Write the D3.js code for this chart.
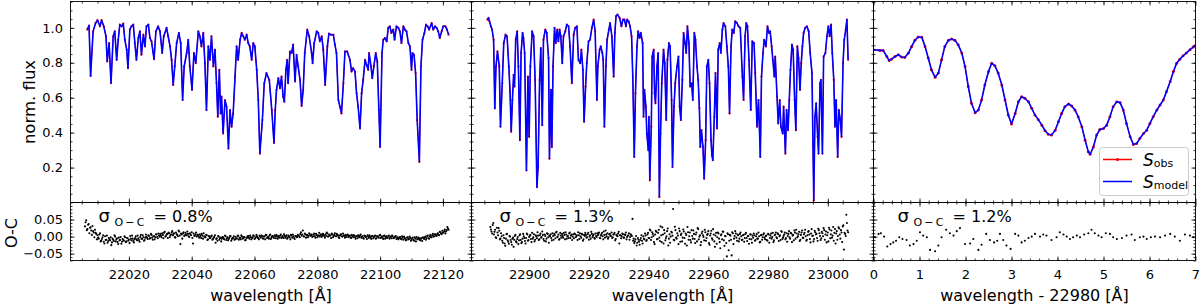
<!DOCTYPE html>
<html>
<head>
<meta charset="utf-8">
<script src="https://cdn.jsdelivr.net/npm/d3@7"></script>
<style>
body { margin: 0; background: #fff; }
text { font-family: "DejaVu Sans", sans-serif; fill: #000; }
</style>
</head>
<body>
<svg id="fig" width="1200" height="308"></svg>
<script>
// ---- data ----
// model spectra [wavelength, norm. flux]
var spec1 = [[22006.7,0.990],[22007.3,1.013],[22007.8,0.725],[22008.6,0.980],[22009.4,1.028],[22010.0,1.044],[22010.8,1.009],[22011.3,1.044],[22012.0,1.009],[22012.7,0.952],
[22013.1,0.808],[22013.7,0.913],[22014.3,0.683],[22015.0,0.952],[22015.5,0.980],[22016.1,0.817],[22016.6,0.932],[22017.1,1.019],[22017.7,1.009],[22018.2,1.024],
[22018.7,0.932],[22019.3,0.875],[22019.7,0.769],[22020.3,0.990],[22020.8,1.009],[22021.4,1.019],[22021.9,0.913],[22022.4,0.817],[22023.0,0.942],[22023.5,0.980],
[22024.0,0.846],[22024.6,0.961],[22025.1,0.894],[22025.6,1.009],[22026.2,1.019],[22026.7,0.942],[22027.2,0.923],[22028.0,0.821],[22028.6,0.980],[22029.3,1.009],
[22029.9,0.980],[22030.6,0.856],[22031.1,0.952],[22032.0,1.000],[22032.5,0.952],[22033.1,0.894],[22033.6,0.817],[22034.1,0.673],[22034.6,0.779],[22035.2,0.913],
[22035.9,0.971],[22036.5,0.913],[22037.1,0.587],[22037.6,0.779],[22038.4,0.856],[22038.9,0.932],[22039.4,0.779],[22040.1,0.645],[22040.7,0.856],[22041.3,0.798],
[22042.1,0.980],[22042.6,0.952],[22043.1,0.894],[22043.7,0.971],[22044.2,0.798],[22044.7,0.529],[22045.3,0.894],[22045.8,0.817],[22046.3,0.952],[22046.9,0.779],
[22047.4,0.875],[22047.9,0.683],[22048.3,0.491],[22048.8,0.760],[22049.2,0.510],[22049.5,0.606],[22050.0,0.395],[22050.6,0.587],[22051.1,0.549],[22051.7,0.309],
[22052.2,0.529],[22052.7,0.434],[22053.2,0.510],[22053.8,0.721],[22054.3,0.894],[22054.8,0.817],[22055.4,0.932],[22055.9,0.971],[22056.4,0.952],[22056.9,0.932],
[22057.5,0.961],[22058.0,0.913],[22058.5,0.894],[22059.1,0.817],[22059.6,0.913],[22060.1,0.894],[22060.7,0.760],[22061.2,0.587],[22061.7,0.280],[22062.5,0.472],
[22063.1,0.683],[22063.8,0.741],[22064.7,0.702],[22065.5,0.529],[22066.2,0.341],[22066.6,0.529],[22067.0,0.645],[22067.6,0.712],[22068.1,0.654],[22068.6,0.721],
[22069.1,0.606],[22069.5,0.577],[22070.0,0.760],[22070.4,0.817],[22070.7,0.683],[22071.3,0.865],[22071.8,0.856],[22072.3,0.904],[22072.9,0.693],[22073.4,0.846],
[22073.9,0.779],[22074.5,0.702],[22075.0,0.553],[22075.5,0.645],[22076.0,0.856],[22076.8,0.990],[22077.4,0.952],[22078.2,0.856],[22078.5,0.798],[22079.0,0.913],
[22079.8,0.980],[22080.3,0.971],[22080.8,0.923],[22081.4,0.952],[22081.9,0.875],[22082.5,0.673],[22083.2,0.894],[22083.7,0.967],[22084.3,0.961],[22085.1,0.961],
[22085.6,0.904],[22086.1,0.856],[22086.7,0.587],[22087.2,0.549],[22087.7,0.510],[22088.3,0.683],[22088.8,0.865],[22089.5,0.865],[22090.4,0.817],[22090.9,0.750],
[22091.4,0.769],[22092.0,0.750],[22092.5,0.625],[22093.0,0.549],[22093.6,0.424],[22094.1,0.625],[22094.6,0.702],[22095.2,0.817],[22095.7,0.788],[22096.2,0.760],
[22096.5,0.856],[22097.1,0.779],[22097.5,0.712],[22098.0,0.779],[22098.6,0.856],[22099.1,0.808],[22099.6,0.529],[22100.0,0.318],[22100.6,0.856],[22101.0,0.932],
[22101.5,0.942],[22102.1,0.923],[22102.6,1.000],[22103.1,1.009],[22103.6,0.971],[22104.2,0.990],[22104.6,0.932],[22105.2,1.009],[22105.8,1.000],[22106.3,0.980],
[22106.8,0.913],[22107.4,1.009],[22107.9,0.990],[22108.4,0.980],[22109.0,0.913],[22109.5,0.894],[22110.0,0.760],[22110.3,0.856],[22110.8,0.846],[22111.3,0.741],
[22111.8,0.472],[22112.5,0.232],[22113.0,0.779],[22113.5,0.932],[22114.1,0.971],[22114.6,1.019],[22115.1,1.009],[22115.6,0.990],[22116.4,1.028],[22116.9,0.990],
[22117.5,1.009],[22118.0,1.000],[22118.5,0.980],[22119.0,0.942],[22119.6,0.980],[22120.1,1.009],[22120.8,1.009],[22121.3,0.990],[22121.8,0.961]];

var spec2 = [[22886.0,1.047],[22886.4,1.057],[22886.7,1.038],[22887.2,1.009],[22887.6,0.990],[22888.1,0.932],[22888.5,0.539],[22888.9,0.779],[22889.4,0.865],[22890.0,0.779],
[22890.4,0.434],[22891.0,0.683],[22891.5,0.913],[22892.1,0.961],[22892.6,0.952],[22893.2,0.779],[22893.6,0.635],[22894.0,0.405],[22894.4,0.587],[22894.8,0.731],
[22895.1,0.664],[22895.5,0.932],[22896.0,0.980],[22896.4,0.779],[22896.9,0.357],[22897.3,0.856],[22897.8,0.971],[22898.1,0.942],[22898.5,0.856],[22899.1,0.184],
[22899.6,0.721],[22900.0,0.376],[22900.4,0.779],[22901.0,0.980],[22901.5,0.952],[22902.0,0.702],[22902.6,0.088],[22903.0,0.203],[22903.5,0.702],[22903.9,0.884],
[22904.4,0.443],[22904.8,0.932],[22905.4,0.990],[22905.9,0.971],[22906.5,0.827],[22906.8,0.251],[22907.3,0.645],[22907.6,0.318],[22908.0,0.779],[22908.5,1.000],
[22908.9,0.913],[22909.4,0.990],[22909.8,0.923],[22910.2,0.990],[22910.6,0.952],[22911.1,0.798],[22911.5,0.952],[22912.1,0.980],[22912.6,1.019],[22913.2,1.009],
[22913.7,0.894],[22914.3,0.683],[22914.9,0.961],[22915.4,1.000],[22916.0,1.009],[22916.5,0.817],[22917.1,0.798],[22917.5,0.875],[22918.0,0.760],[22918.4,0.462],
[22918.9,0.664],[22919.3,0.798],[22919.9,0.923],[22920.4,0.932],[22921.0,1.000],[22921.6,1.047],[22922.1,0.980],[22922.7,0.587],[22923.0,0.779],[22923.6,0.875],
[22924.0,0.894],[22924.5,0.856],[22924.8,0.817],[22925.2,0.434],[22925.7,0.779],[22926.1,0.932],[22926.7,0.990],[22927.1,1.028],[22927.7,0.952],[22928.3,0.721],
[22928.7,0.971],[22929.1,1.067],[22929.6,1.076],[22930.3,1.057],[22930.9,1.009],[22931.4,1.047],[22931.9,1.047],[22932.4,1.009],[22932.8,1.047],[22933.3,1.038],
[22933.8,1.009],[22934.3,0.952],[22934.7,0.721],[22935.2,0.261],[22935.6,0.625],[22936.1,0.894],[22936.5,0.980],[22937.0,0.942],[22937.4,0.971],[22938.0,0.913],
[22938.3,0.491],[22938.6,0.645],[22939.1,0.549],[22939.4,0.395],[22939.9,0.299],[22940.1,0.491],[22940.4,0.127],[22940.9,0.434],[22941.2,0.836],[22941.7,0.875],
[22942.0,0.625],[22942.3,0.568],[22942.8,0.779],[22943.2,0.856],[22943.6,0.031],[22944.0,0.395],[22944.4,0.683],[22945.0,0.875],[22945.4,0.798],[22945.9,0.472],
[22946.3,0.817],[22946.8,0.913],[22947.2,0.894],[22947.7,0.587],[22948.0,0.203],[22948.5,0.549],[22948.9,0.683],[22949.5,0.779],[22950.0,0.836],[22950.4,0.549],
[22950.8,0.472],[22951.3,0.702],[22951.7,0.971],[22952.2,0.913],[22952.6,0.856],[22953.0,1.009],[22953.5,0.913],[22953.9,0.664],[22954.4,0.683],[22954.8,0.587],
[22955.3,0.971],[22955.7,0.932],[22956.2,0.779],[22956.6,0.702],[22957.0,0.539],[22957.3,0.318],[22957.7,0.414],[22958.2,0.318],[22958.6,0.136],[22959.1,0.357],
[22959.5,0.779],[22960.0,0.817],[22960.4,0.683],[22960.9,0.357],[22961.2,0.271],[22961.5,0.242],[22962.0,0.491],[22962.4,0.741],[22962.9,0.424],[22963.3,0.875],
[22963.8,0.913],[22964.2,0.856],[22964.7,0.990],[22965.1,1.028],[22965.7,1.009],[22966.2,0.894],[22966.7,0.779],[22967.1,0.510],[22967.6,0.894],[22968.0,0.990],
[22968.5,0.971],[22969.0,1.038],[22969.6,1.028],[22970.1,1.009],[22970.7,1.000],[22971.4,0.721],[22971.8,0.587],[22972.3,0.952],[22972.7,1.028],[22973.1,1.009],
[22973.6,0.817],[22974.2,0.530],[22974.7,0.923],[22975.3,0.913],[22975.7,0.741],[22976.3,0.434],[22976.8,0.587],[22977.4,0.261],[22977.8,0.721],[22978.3,0.856],
[22978.7,0.932],[22979.3,0.894],[22979.8,1.009],[22980.3,0.971],[22980.7,0.980],[22981.2,0.894],[22981.6,0.817],[22982.1,0.721],[22982.4,0.836],[22983.0,0.606],
[22983.4,0.453],[22983.9,0.587],[22984.3,0.434],[22984.9,0.395],[22985.2,0.549],[22985.8,0.280],[22986.2,0.530],[22986.7,0.414],[22987.1,0.587],[22987.5,0.760],
[22988.0,0.904],[22988.4,0.875],[22988.9,0.587],[22989.3,0.414],[22989.8,0.894],[22990.2,0.827],[22990.7,0.645],[22991.1,0.798],[22991.5,0.894],[22991.9,0.971],
[22992.4,1.000],[22993.0,1.009],[22993.6,0.980],[22994.1,0.856],[22994.7,0.741],[22995.3,0.012],[22995.7,0.491],[22996.1,0.568],[22996.6,0.376],[22996.9,0.280],
[22997.4,0.683],[22997.7,0.702],[22998.2,0.280],[22998.6,0.836],[22999.2,0.856],[22999.7,0.952],[23000.2,1.009],[23000.6,0.952],[23001.1,1.019],[23001.5,0.856],
[23002.0,0.702],[23002.4,0.434],[23002.8,0.587],[23003.3,0.261],[23003.7,0.530],[23004.2,0.472],[23004.6,0.376],[23005.1,0.798],[23005.5,0.932],[23006.0,0.990],
[23006.4,1.047],[23006.8,0.817]];

// third panel: [wavelength - 22980, norm. flux]
var spec3 = [[0.00,0.875],[0.14,0.871],[0.21,0.871],[0.29,0.836],[0.34,0.813],[0.39,0.821],[0.47,0.836],[0.54,0.846],[0.61,0.833],[0.68,0.831],
[0.76,0.856],[0.83,0.894],[0.90,0.929],[0.97,0.948],[1.05,0.946],[1.12,0.894],[1.19,0.827],[1.26,0.760],[1.34,0.717],[1.41,0.741],
[1.48,0.817],[1.55,0.894],[1.63,0.929],[1.70,0.936],[1.77,0.929],[1.84,0.904],[1.92,0.856],[1.99,0.779],[2.06,0.664],[2.13,0.568],
[2.21,0.514],[2.28,0.530],[2.35,0.587],[2.42,0.673],[2.50,0.750],[2.57,0.798],[2.64,0.783],[2.71,0.741],[2.79,0.673],[2.86,0.587],
[2.93,0.501],[3.00,0.449],[3.08,0.510],[3.15,0.577],[3.22,0.606],[3.29,0.597],[3.37,0.577],[3.44,0.539],[3.51,0.501],[3.58,0.476],
[3.66,0.443],[3.73,0.411],[3.80,0.391],[3.87,0.386],[3.95,0.414],[4.02,0.462],[4.09,0.510],[4.16,0.549],[4.24,0.564],[4.31,0.553],
[4.38,0.530],[4.45,0.491],[4.53,0.434],[4.60,0.357],[4.67,0.290],[4.71,0.276],[4.78,0.318],[4.85,0.386],[4.92,0.418],[5.00,0.424],
[5.07,0.443],[5.14,0.491],[5.21,0.549],[5.29,0.577],[5.36,0.572],[5.43,0.530],[5.50,0.453],[5.58,0.376],[5.65,0.332],[5.72,0.338],
[5.79,0.366],[5.87,0.395],[5.94,0.414],[6.01,0.453],[6.08,0.491],[6.16,0.530],[6.23,0.558],[6.30,0.587],[6.37,0.635],[6.45,0.693],
[6.52,0.750],[6.59,0.798],[6.66,0.821],[6.73,0.840],[6.80,0.856],[6.88,0.875],[6.95,0.890],[6.99,0.898]];

// O-C residuals, panels 1 and 2: two interleaved runs, each sampled every 0.4 A from its start wavelength
var oc1Start = 22006.0, oc1bStart = 22006.2, oc1Step = 0.4;
var oc1 = [0.030,0.048,0.022,0.037,0.026,0.018,0.031,0.012,0.020,0.008,
0.004,-0.006,0.010,-0.012,-0.002,-0.015,0.001,-0.009,-0.018,-0.004,
-0.011,-0.025,-0.006,-0.013,0.000,-0.008,-0.016,-0.003,-0.010,-0.021,
-0.007,-0.012,-0.002,-0.014,-0.005,-0.009,0.002,-0.011,-0.006,-0.017,
-0.004,-0.008,0.003,-0.010,-0.001,-0.006,0.004,-0.012,-0.003,0.000,
-0.007,0.002,-0.004,0.005,-0.009,0.001,-0.002,0.006,-0.005,0.003,
0.008,-0.002,0.005,0.011,0.000,0.006,-0.004,0.009,0.003,0.012,
0.004,0.010,-0.003,0.007,0.001,0.015,-0.022,0.006,0.009,0.002,
0.011,0.004,0.008,-0.001,0.006,0.013,-0.020,0.003,0.007,0.000,
0.005,-0.003,0.002,0.008,-0.006,0.001,-0.002,0.004,-0.008,0.000,
-0.004,0.003,-0.007,-0.001,-0.018,-0.005,0.002,-0.009,-0.003,-0.006,
-0.002,-0.008,0.001,-0.005,-0.011,-0.003,0.002,-0.007,-0.004,-0.009,
-0.001,-0.006,0.003,-0.004,-0.008,0.000,-0.005,-0.002,-0.010,-0.003,
0.002,-0.006,-0.001,-0.004,0.004,-0.007,-0.002,0.001,-0.005,0.003,
-0.003,0.002,-0.006,0.000,0.005,-0.004,-0.001,0.003,-0.007,0.001,
-0.002,0.004,-0.005,0.000,0.002,-0.003,0.006,-0.001,-0.004,0.002,
0.000,-0.006,0.003,-0.002,0.005,-0.003,0.001,-0.007,0.002,-0.001,
0.004,-0.002,0.013,0.006,0.001,0.009,-0.003,0.005,0.002,0.007,
0.003,-0.001,0.006,0.002,0.008,-0.002,0.004,0.000,0.007,0.003,
0.005,-0.003,0.002,0.009,0.001,0.004,-0.004,0.006,0.002,0.010,
0.001,0.005,-0.002,0.003,0.007,0.000,0.004,-0.003,0.002,0.006,
-0.001,0.003,-0.004,0.001,0.004,-0.002,0.002,-0.005,0.000,0.003,
-0.003,0.001,-0.006,0.002,-0.001,0.004,-0.004,0.000,-0.007,0.002,
-0.002,0.003,-0.005,0.000,-0.003,0.005,-0.001,-0.004,0.002,-0.006,
0.001,-0.003,0.003,-0.002,-0.005,0.001,-0.004,0.000,-0.007,-0.002,
-0.005,-0.001,-0.008,-0.003,0.000,-0.006,-0.010,-0.002,-0.007,-0.004,
-0.009,-0.003,-0.012,-0.006,-0.001,-0.008,-0.004,-0.011,-0.005,-0.002,
-0.007,0.000,-0.004,0.003,-0.006,0.005,-0.002,0.008,0.001,0.006,
0.002,0.010,0.004,0.013,0.007,0.011,0.016,0.009,0.019,0.024];
var oc1b = [0.042,0.019,0.035,0.010,0.027,0.005,0.016,-0.002,0.011,-0.008,
-0.003,0.006,-0.014,-0.007,0.004,-0.020,-0.010,0.003,-0.013,-0.008,
-0.002,-0.017,-0.009,0.004,-0.014,-0.005,-0.022,-0.011,-0.001,-0.015,
-0.010,0.001,-0.016,-0.004,-0.012,-0.019,-0.006,0.003,-0.013,-0.008,
0.001,-0.011,-0.005,-0.015,0.005,-0.007,-0.002,-0.010,0.006,-0.004,
0.004,-0.006,0.008,-0.003,0.002,-0.008,0.007,-0.001,0.009,0.000,
0.003,0.010,-0.005,0.014,0.002,0.008,0.012,-0.002,0.006,0.016,
0.008,-0.001,0.012,0.005,0.018,0.003,0.009,-0.006,0.013,0.004,
0.007,0.015,0.001,0.010,0.004,-0.004,0.009,0.002,0.012,0.005,
0.001,0.007,-0.004,0.003,0.010,-0.002,0.005,-0.010,0.002,-0.005,
0.001,-0.009,-0.003,0.004,-0.007,-0.012,0.000,-0.005,-0.014,-0.001,
-0.006,0.003,-0.010,-0.002,-0.007,0.002,-0.012,-0.004,0.001,-0.008,
-0.005,0.002,-0.009,-0.003,0.004,-0.006,-0.001,-0.011,-0.004,0.001,
-0.003,0.003,-0.008,-0.002,0.002,-0.005,0.005,-0.003,-0.008,0.000,
0.003,-0.005,0.001,-0.008,0.004,-0.002,-0.006,0.006,-0.003,0.002,
-0.004,0.001,0.005,-0.006,-0.001,0.003,-0.004,0.002,0.007,-0.003,
0.004,-0.003,0.001,-0.008,0.003,0.006,-0.004,0.002,-0.002,0.005,
0.001,0.008,0.003,0.018,0.000,0.007,0.004,-0.002,0.010,0.003,
0.006,0.001,0.009,-0.003,0.005,0.002,0.011,0.004,-0.001,0.008,
0.002,0.007,0.012,0.000,0.006,0.003,0.009,-0.002,0.005,0.001,
0.008,0.003,-0.004,0.006,0.001,0.009,0.002,0.005,-0.001,0.004,
0.002,-0.003,0.005,-0.001,0.003,-0.006,0.001,0.004,-0.002,0.006,
0.000,-0.004,0.003,-0.002,-0.007,0.001,0.004,-0.003,0.002,-0.005,
0.001,-0.006,0.002,-0.002,0.004,-0.004,0.001,-0.007,0.003,-0.001,
-0.004,0.002,-0.006,0.000,0.003,-0.005,-0.002,0.002,-0.004,-0.008,
-0.002,-0.006,0.001,-0.009,-0.004,-0.011,-0.003,-0.008,0.000,-0.012,
-0.005,-0.010,-0.002,-0.014,-0.007,-0.003,-0.009,-0.006,-0.013,-0.004,
-0.003,-0.009,0.002,-0.005,0.001,-0.002,0.004,0.000,0.007,0.003,
0.008,0.005,0.014,0.009,0.017,0.012,0.021,0.015,0.028,0.020];

var oc2Start = 22887.0, oc2bStart = 22887.2, oc2Step = 0.4;
var oc2 = [0.028,0.015,0.034,0.006,0.020,-0.004,0.012,0.025,-0.008,0.010,
-0.012,0.004,-0.020,-0.006,0.008,-0.015,0.002,-0.010,-0.024,-0.003,
-0.009,0.005,-0.017,-0.001,-0.011,0.007,-0.019,-0.006,0.001,-0.013,
-0.004,0.006,-0.010,0.002,-0.007,0.011,-0.002,-0.014,0.004,-0.005,
0.003,-0.008,0.009,-0.001,0.005,-0.012,0.002,-0.006,0.008,-0.018,
0.001,-0.004,0.010,-0.009,0.004,0.012,-0.002,0.006,-0.007,0.003,
0.008,-0.003,0.005,0.013,-0.006,0.002,0.009,-0.004,0.006,0.000,
-0.005,0.007,0.001,-0.010,0.004,0.010,-0.003,0.006,-0.008,0.002,
0.005,-0.002,0.011,0.000,-0.006,0.008,0.003,-0.004,0.009,-0.001,
0.004,0.012,-0.005,0.007,0.001,0.015,-0.003,0.006,0.010,-0.002,
0.008,0.002,-0.004,0.006,0.011,-0.007,0.003,0.009,-0.020,0.004,
0.001,0.007,-0.003,0.005,-0.008,0.002,0.010,-0.001,0.004,0.052,
-0.006,-0.014,0.002,-0.018,-0.009,-0.024,-0.004,-0.012,0.001,-0.008,
0.003,-0.010,0.011,-0.005,0.018,-0.002,0.008,-0.016,0.006,0.014,
-0.007,0.020,-0.013,0.004,0.027,-0.020,0.010,-0.004,0.016,-0.026,
0.007,0.000,0.012,0.081,-0.011,0.019,-0.006,0.003,0.024,-0.015,
0.009,-0.003,0.015,-0.021,0.005,0.028,-0.009,0.012,-0.017,0.002,
0.018,-0.007,0.006,-0.014,0.022,0.000,-0.025,0.010,0.004,-0.011,
0.013,-0.004,0.008,-0.019,0.003,0.017,-0.009,0.006,-0.030,0.011,
-0.002,0.009,-0.016,0.004,-0.008,0.014,-0.027,0.001,-0.058,0.007,
-0.012,0.003,-0.055,0.010,-0.006,0.016,-0.003,0.006,-0.014,0.008,
0.001,-0.009,0.005,-0.004,0.011,-0.013,0.002,-0.007,0.006,-0.018,
-0.003,0.004,-0.010,0.008,-0.006,0.001,-0.015,0.005,-0.002,0.010,
-0.008,0.003,-0.012,0.006,-0.004,0.009,-0.001,-0.016,0.004,0.012,
-0.005,0.007,0.001,-0.010,0.014,-0.003,0.006,-0.008,0.010,0.002,
0.016,-0.006,0.009,0.003,-0.011,0.012,0.020,-0.002,0.007,-0.013,
0.005,0.018,-0.004,0.011,0.001,-0.009,0.014,0.006,-0.017,0.022,
0.003,-0.007,0.013,0.008,-0.012,0.019,0.002,-0.005,0.010,0.025,
-0.009,0.015,0.004,-0.014,0.021,0.007,-0.003,0.028,0.011,-0.020,
0.016,0.002,0.024,-0.006,0.012,0.030,-0.038,0.008,0.064,0.018];
var oc2b = [0.021,0.009,0.040,0.014,-0.002,0.026,0.004,0.017,-0.006,0.001,
-0.018,-0.004,-0.027,0.007,-0.011,-0.021,0.000,-0.016,-0.006,-0.030,
0.002,-0.014,-0.007,-0.022,0.004,-0.010,-0.016,0.008,-0.004,-0.020,
0.009,-0.012,-0.001,0.005,-0.016,-0.006,0.007,-0.009,0.000,0.013,
-0.010,0.004,-0.003,0.015,-0.007,0.006,-0.014,0.010,-0.002,0.003,
0.007,-0.011,0.002,0.008,-0.005,0.014,0.000,-0.009,0.011,-0.003,
0.002,0.011,-0.008,0.006,0.001,-0.004,0.012,0.003,-0.010,0.007,
0.009,-0.002,0.004,0.013,-0.007,0.001,0.008,-0.012,0.005,0.011,
-0.003,0.007,-0.009,0.004,0.014,-0.001,0.006,-0.006,0.002,0.010,
0.008,-0.004,0.003,0.011,-0.008,0.005,0.018,0.000,-0.006,0.007,
0.003,0.012,-0.002,0.007,-0.011,0.005,0.001,0.014,0.004,-0.005,
0.009,-0.003,0.006,0.012,-0.001,0.004,-0.009,0.007,0.002,-0.012,
-0.019,-0.008,-0.026,-0.004,-0.015,-0.010,0.004,-0.020,-0.006,0.009,
-0.013,0.006,-0.004,0.021,-0.010,0.013,0.002,-0.022,0.017,-0.008,
0.011,-0.003,0.030,-0.016,0.006,0.019,-0.011,0.001,0.024,-0.006,
-0.018,0.014,0.003,-0.009,0.029,-0.003,0.010,-0.022,0.016,0.005,
-0.014,0.021,-0.004,0.009,-0.026,0.013,0.001,-0.010,0.019,-0.006,
0.008,-0.019,0.012,0.025,-0.008,0.004,-0.016,0.015,-0.001,0.020,
-0.012,0.005,0.016,-0.024,0.009,-0.005,0.022,-0.014,0.003,-0.021,
0.012,-0.006,-0.034,0.007,0.015,-0.011,0.002,-0.019,0.010,-0.040,
0.005,-0.009,0.013,-0.022,0.002,0.009,-0.012,0.004,-0.006,0.012,
-0.010,0.004,-0.015,0.008,-0.004,0.002,-0.021,0.007,-0.008,0.003,
0.009,-0.012,0.001,-0.006,0.012,-0.017,0.004,-0.009,0.006,-0.003,
0.002,-0.010,0.008,-0.018,0.003,-0.006,0.011,-0.011,0.006,-0.002,
0.010,-0.013,0.004,0.016,-0.007,0.002,0.012,-0.004,-0.015,0.008,
-0.002,0.011,-0.016,0.005,0.018,-0.006,0.009,0.001,0.014,-0.009,
0.012,-0.003,0.007,0.020,-0.012,0.004,0.016,-0.007,0.009,0.002,
-0.014,0.017,0.006,-0.004,0.023,0.010,-0.010,0.014,0.001,0.019,
0.006,-0.017,0.012,0.026,-0.005,0.018,0.003,-0.012,0.022,0.009,
-0.009,0.027,0.006,0.019,-0.016,0.033,0.011,0.002,0.040,0.013];

// third panel residuals [wavelength - 22980, O-C]
var oc3 = [[0.03,-0.002],[0.11,0.008],[0.16,0.010],[0.23,0.000],[0.30,-0.029],[0.37,-0.022],[0.43,-0.017],[0.49,-0.012],[0.56,-0.002],[0.63,-0.007],
[0.72,-0.010],[0.79,-0.026],[0.87,-0.022],[0.94,-0.012],[1.01,0.013],[1.08,0.003],[1.16,-0.002],[1.23,-0.039],[1.34,-0.043],[1.41,-0.026],
[1.48,-0.002],[1.58,0.020],[1.66,0.010],[1.74,0.003],[1.81,0.016],[1.88,0.025],[1.99,-0.022],[2.10,-0.020],[2.17,-0.007],[2.28,-0.039],
[2.35,-0.024],[2.45,0.008],[2.53,-0.010],[2.62,-0.017],[2.69,-0.012],[2.75,0.008],[2.82,-0.010],[2.89,-0.026],[2.98,-0.036],[3.08,0.008],
[3.15,0.003],[3.22,-0.017],[3.29,-0.012],[3.37,-0.004],[3.44,0.000],[3.51,0.008],[3.62,0.000],[3.69,0.006],[3.76,0.003],[3.87,-0.010],
[3.98,-0.002],[4.05,0.013],[4.13,0.006],[4.20,0.000],[4.27,-0.007],[4.34,-0.002],[4.42,0.003],[4.49,-0.002],[4.58,0.006],[4.67,0.010],
[4.74,0.020],[4.81,0.010],[4.89,0.003],[4.96,-0.002],[5.05,0.010],[5.14,0.008],[5.21,-0.002],[5.29,-0.007],[5.40,-0.004],[5.50,0.003],
[5.61,0.006],[5.68,-0.010],[5.79,-0.002],[5.87,0.000],[5.94,-0.007],[6.03,-0.002],[6.12,0.000],[6.23,-0.002],[6.34,0.003],[6.45,0.008],
[6.55,0.000],[6.66,-0.012],[6.77,0.006],[6.88,0.003],[6.95,-0.002]];

// tick values and labels
var fluxTicks = [0.2, 0.4, 0.6, 0.8, 1.0];
var ocTicks = [-0.05, 0, 0.05];
var xTicks1 = [22020, 22040, 22060, 22080, 22100, 22120];
var xTicks2 = [22900, 22920, 22940, 22960, 22980, 23000];
var xTicks3 = [0, 1, 2, 3, 4, 5, 6, 7];
var sigmaOC = ["0.8%", "1.3%", "1.2%"];
var xTitles = ["wavelength [Å]", "wavelength [Å]", "wavelength - 22980 [Å]"];
var legendSub = ["obs", "model"];

// ---- layout ----
var RED = "#ff0000", BLUE = "#0000ff";
var TOP = 1.5, MID = 202.5, BOT = 260.5;

function grid(vals, start, step) {
  return vals.map(function(v, i) { return [start + i * step, v]; });
}

var panels = [
  {left: 70.5, right: 471.5, dom: [22001.4, 22129.1], ticks: xTicks1, minor: 5,
   spec: spec1, oc: grid(oc1, oc1Start, oc1Step).concat(grid(oc1b, oc1bStart, oc1Step)), sx: 28, marker: 1.1},
  {left: 471.5, right: 873.5, dom: [22880.7, 23015.3], ticks: xTicks2, minor: 5,
   spec: spec2, oc: grid(oc2, oc2Start, oc2Step).concat(grid(oc2b, oc2bStart, oc2Step)), sx: 28, marker: 1.1},
  {left: 873.5, right: 1195.5, dom: [0, 7], ticks: xTicks3, minor: 0.2,
   spec: spec3, oc: oc3, sx: 24, marker: 1.5}
];

var svg = d3.select("#fig");
var yTop = d3.scaleLinear().domain([0, 1.151]).range([MID, TOP]);
var yOC = d3.scaleLinear().domain([-0.07, 0.1]).range([BOT, MID]);

var yMinorTop = d3.range(0.05, 1.151, 0.05).map(function(v) { return +v.toFixed(2); });
var yMinorOC = d3.range(-0.07, 0.1001, 0.01).map(function(v) { return +v.toFixed(2); });

function drawAxis(g, gen, vals, len, fmt, pad) {
  gen.tickValues(vals).tickSizeInner(-len).tickSizeOuter(0).tickPadding(pad || 3)
     .tickFormat(fmt || function() { return ""; });
  g.call(gen);
  g.attr("font-family", null).attr("font-size", null);
  g.select(".domain").remove();
  g.selectAll(".tick line").attr("stroke", "#000").attr("stroke-width", 0.8);
  g.selectAll(".tick text").attr("fill", "#000").style("font-size", "13px");
}

panels.forEach(function(p, i) {
  var x = d3.scaleLinear().domain(p.dom).range([p.left, p.right]);
  var xMinor = d3.range(Math.ceil(p.dom[0] / p.minor) * p.minor, p.dom[1], p.minor)
                 .map(function(v) { return +v.toFixed(2); });

  svg.append("clipPath").attr("id", "ct" + i).append("rect")
    .attr("x", p.left).attr("y", TOP).attr("width", p.right - p.left).attr("height", MID - TOP);
  svg.append("clipPath").attr("id", "cb" + i).append("rect")
    .attr("x", p.left).attr("y", MID).attr("width", p.right - p.left).attr("height", BOT - MID);

  // spectra: observed (red, dots) under the model (blue)
  var top = svg.append("g").attr("clip-path", "url(#ct" + i + ")");
  var line = d3.line().x(function(d) { return x(d[0]); }).y(function(d) { return yTop(d[1]); });
  top.append("path").attr("d", line(p.spec)).attr("fill", "none")
    .attr("stroke", RED).attr("stroke-width", 1.0).attr("stroke-linejoin", "round");
  top.selectAll("circle").data(p.spec).enter().append("circle")
    .attr("cx", function(d) { return x(d[0]); })
    .attr("cy", function(d) { return yTop(d[1]); })
    .attr("r", p.marker).attr("fill", RED);
  top.append("path").attr("d", line(p.spec)).attr("fill", "none")
    .attr("stroke", BLUE).attr("stroke-width", 1.6).attr("stroke-linejoin", "round");

  // residuals
  var bot = svg.append("g").attr("clip-path", "url(#cb" + i + ")");
  var s = bot.append("text").attr("x", p.left + p.sx).attr("y", 222);
  s.append("tspan").style("font-size", "18px").text("σ");
  s.append("tspan").attr("x", p.left + p.sx + 16).attr("dy", 4).style("font-size", "11px").text("O\u2009−\u2009C");
  s.append("tspan").attr("x", p.left + p.sx + 55).attr("dy", -4).style("font-size", "16px").text("= " + sigmaOC[i]);
  bot.selectAll("circle").data(p.oc).enter().append("circle")
    .attr("cx", function(d) { return x(d[0]); })
    .attr("cy", function(d) { return yOC(d[1]); })
    .attr("r", 1.05).attr("fill", "#000");

  // ticks: top panel
  drawAxis(svg.append("g").attr("transform", "translate(0," + MID + ")"), d3.axisBottom(x), p.ticks, 4);
  drawAxis(svg.append("g").attr("transform", "translate(0," + MID + ")"), d3.axisBottom(x), xMinor, 2);
  drawAxis(svg.append("g").attr("transform", "translate(0," + TOP + ")"), d3.axisTop(x), p.ticks, 4);
  drawAxis(svg.append("g").attr("transform", "translate(0," + TOP + ")"), d3.axisTop(x), xMinor, 2);
  drawAxis(svg.append("g").attr("transform", "translate(" + p.left + ",0)"), d3.axisLeft(yTop), fluxTicks, 4,
    i === 0 ? d3.format(".1f") : null, 7.5);
  drawAxis(svg.append("g").attr("transform", "translate(" + p.left + ",0)"), d3.axisLeft(yTop), yMinorTop, 2);
  drawAxis(svg.append("g").attr("transform", "translate(" + p.right + ",0)"), d3.axisRight(yTop), fluxTicks, 4);
  drawAxis(svg.append("g").attr("transform", "translate(" + p.right + ",0)"), d3.axisRight(yTop), yMinorTop, 2);

  // ticks: residual panel
  drawAxis(svg.append("g").attr("transform", "translate(0," + BOT + ")"), d3.axisBottom(x), p.ticks, 4,
    d3.format("d"), 9);
  drawAxis(svg.append("g").attr("transform", "translate(0," + BOT + ")"), d3.axisBottom(x), xMinor, 2);
  drawAxis(svg.append("g").attr("transform", "translate(0," + MID + ")"), d3.axisTop(x), p.ticks, 4);
  drawAxis(svg.append("g").attr("transform", "translate(0," + MID + ")"), d3.axisTop(x), xMinor, 2);
  drawAxis(svg.append("g").attr("transform", "translate(" + p.left + ",0)"), d3.axisLeft(yOC), ocTicks, 4,
    i === 0 ? d3.format(".2f") : null, 7.5);
  drawAxis(svg.append("g").attr("transform", "translate(" + p.left + ",0)"), d3.axisLeft(yOC), yMinorOC, 2);
  drawAxis(svg.append("g").attr("transform", "translate(" + p.right + ",0)"), d3.axisRight(yOC), ocTicks, 4);
  drawAxis(svg.append("g").attr("transform", "translate(" + p.right + ",0)"), d3.axisRight(yOC), yMinorOC, 2);

  // frames
  svg.append("rect").attr("x", p.left).attr("y", TOP).attr("width", p.right - p.left).attr("height", MID - TOP)
    .attr("fill", "none").attr("stroke", "#000").attr("stroke-width", 0.9);
  svg.append("rect").attr("x", p.left).attr("y", MID).attr("width", p.right - p.left).attr("height", BOT - MID)
    .attr("fill", "none").attr("stroke", "#000").attr("stroke-width", 0.9);

  svg.append("text").attr("x", (p.left + p.right) / 2).attr("y", 301)
    .attr("text-anchor", "middle").style("font-size", "16px").text(xTitles[i]);
});

// axis titles
svg.append("text").attr("transform", "translate(35,102) rotate(-90)")
  .attr("text-anchor", "middle").style("font-size", "16.5px").text("norm. flux");
svg.append("text").attr("transform", "translate(16.5,233) rotate(-90)")
  .attr("text-anchor", "middle").style("font-size", "16px").text("O-C");

// legend
var lg = svg.append("g");
lg.append("rect").attr("x", 1099.5).attr("y", 147.5).attr("width", 89).attr("height", 48).attr("rx", 3)
  .attr("fill", "#fff").attr("fill-opacity", 0.8).attr("stroke", "#cccccc");
[RED, BLUE].forEach(function(c, k) {
  var yy = 159.5 + k * 22;
  lg.append("line").attr("x1", 1103).attr("x2", 1132).attr("y1", yy).attr("y2", yy)
    .attr("stroke", c).attr("stroke-width", 1.5);
  if (k === 0) lg.append("circle").attr("cx", 1117.5).attr("cy", yy).attr("r", 1.5).attr("fill", c);
  var t = lg.append("text").attr("x", 1143).attr("y", yy + 6);
  t.append("tspan").style("font-size", "17px").style("font-style", "italic").text("S");
  t.append("tspan").attr("dy", 1.5).style("font-size", "11px").text(legendSub[k]);
});
</script>
</body>
</html>
